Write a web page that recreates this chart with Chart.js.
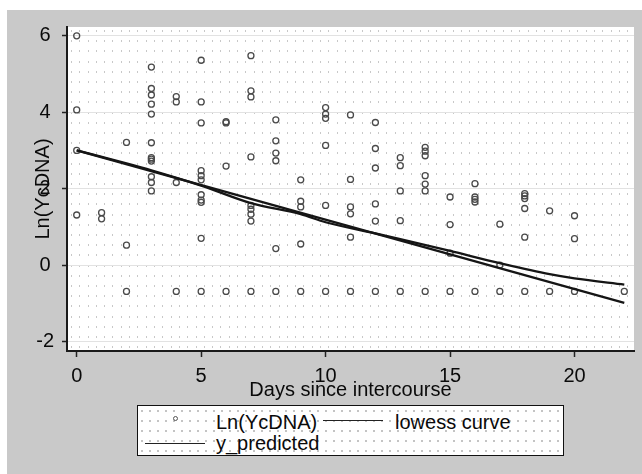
<!DOCTYPE html>
<html>
<head>
<meta charset="utf-8">
<script src="https://cdn.jsdelivr.net/npm/chart.js@4"></script>
<style>
  body { margin: 0; background: #fff; }
  #wrap { position: relative; width: 642px; height: 474px; }
  #legend {
    position: absolute; left: 137px; top: 405px; width: 425px; height: 49px;
    border: 1.5px solid #111; background-color: #fff;
    background-image: radial-gradient(#c4c4c4 0.7px, transparent 0.9px);
    background-size: 8px 10px;
    font-family: "Liberation Sans", Arial, sans-serif; font-size: 20px; line-height: 20px; color: #0a0a0a;
  }
  #legend span { position: absolute; white-space: nowrap; }
  #legend .ln { position: absolute; height: 0; border-top: 1.5px solid #222; }
  #legend .pt { position: absolute; width: 3px; height: 3px; border: 1px solid #555; border-radius: 50%; }
</style>
</head>
<body>
<div id="wrap">
  <canvas id="grafico" width="642" height="474"></canvas>
  <div id="legend">
    <div class="pt" style="left:35px; top:10px;"></div>
    <span style="left:78px; top:6px;">Ln(YcDNA)</span>
    <div class="ln" style="left:185px; width:60px; top:14px;"></div>
    <span style="left:257px; top:6px;">lowess curve</span>
    <div class="ln" style="left:7px; width:60px; top:37px;"></div>
    <span style="left:78px; top:27px;">y_predicted</span>
  </div>
</div>
<script>
// observaciones: dia desde el coito y Ln(YcDNA)
const obsDays = [
  0, 0, 0, 0,
  1, 1,
  2, 2, 2,
  3, 3, 3, 3, 3, 3, 3, 3, 3, 3, 3, 3,
  4, 4, 4, 4,
  5, 5, 5, 5, 5, 5, 5, 5, 5, 5, 5,
  6, 6, 6, 6,
  7, 7, 7, 7, 7, 7, 7, 7, 7,
  8, 8, 8, 8, 8, 8,
  9, 9, 9, 9, 9,
  10, 10, 10, 10, 10, 10,
  11, 11, 11, 11, 11, 11,
  12, 12, 12, 12, 12, 12,
  13, 13, 13, 13, 13,
  14, 14, 14, 14, 14, 14, 14,
  15, 15, 15, 15,
  16, 16, 16, 16, 16,
  17, 17, 17,
  18, 18, 18, 18, 18, 18,
  19, 19,
  20, 20, 20,
  22
];
const obsLnYcDNA = [
  6.0, 4.06, 3.0, 1.31,
  1.37, 1.21,
  3.21, 0.52, -0.69,
  5.18, 4.62, 4.45, 4.21, 3.95, 3.20, 2.81, 2.77, 2.72, 2.31, 2.16, 1.94,
  4.41, 4.27, 2.16, -0.69,
  5.36, 4.27, 3.72, 2.47, 2.34, 2.23, 1.84, 1.70, 1.64, 0.70, -0.69,
  3.75, 3.72, 2.59, -0.69,
  5.48, 4.56, 4.40, 2.83, 1.56, 1.46, 1.33, 1.15, -0.69,
  3.80, 3.25, 2.93, 2.73, 0.43, -0.69,
  2.23, 1.67, 1.52, 0.55, -0.69,
  4.12, 3.95, 3.84, 3.13, 1.56, -0.69,
  3.93, 2.24, 1.52, 1.34, 0.73, -0.69,
  3.73, 3.05, 2.54, 1.60, 1.15, -0.69,
  2.81, 2.60, 1.94, 1.16, -0.69,
  3.08, 2.98, 2.86, 2.34, 2.12, 1.94, -0.69,
  1.78, 1.06, 0.31, -0.69,
  2.13, 1.78, 1.72, 1.65, -0.69,
  1.07, 0.0, -0.69,
  1.87, 1.81, 1.74, 1.48, 0.73, -0.69,
  1.42, -0.69,
  1.29, 0.69, -0.69,
  -0.69
];

// curva lowess
const lowessDays = [0, 2, 3, 5, 7, 9, 10, 12, 13, 15, 17, 19, 20, 22];
const lowessValues = [3.0, 2.66, 2.48, 2.08, 1.62, 1.33, 1.12, 0.83, 0.68, 0.37, 0.05, -0.24, -0.35, -0.51];

// recta de regresion
const predDays = [0, 22];
const predValues = [3.0, -0.99];

const xTicks = [0, 5, 10, 15, 20];
const yTicks = [-2, 0, 2, 4, 6];

const toXY = (xs, ys) => xs.map((x, i) => ({ x: x, y: ys[i] }));

// fondo gris del escaneo y area blanca punteada
const fondo = {
  id: 'fondo',
  beforeDraw(chart) {
    const ctx = chart.ctx;
    const a = chart.chartArea;
    ctx.save();
    ctx.fillStyle = '#c9c9c9';
    ctx.fillRect(7, 10, chart.width - 7, chart.height - 10);
    ctx.fillStyle = '#ffffff';
    ctx.fillRect(a.left, a.top, a.right - a.left, a.bottom - a.top);
    ctx.fillStyle = '#c8c8c8';
    for (let x = a.left + 4; x < a.right; x += 8.3) {
      for (let y = a.top + 3; y < a.bottom; y += 10.2) {
        ctx.fillRect(Math.round(x), Math.round(y), 1, 2);
      }
    }
    ctx.restore();
  }
};

Chart.defaults.font.family = '"Liberation Sans", Arial, sans-serif';
Chart.defaults.color = '#0a0a0a';

new Chart(document.getElementById('grafico'), {
  type: 'scatter',
  data: {
    datasets: [
      {
        label: 'lowess curve',
        data: toXY(lowessDays, lowessValues),
        showLine: true,
        borderColor: '#151515',
        borderWidth: 2.3,
        pointRadius: 0,
        cubicInterpolationMode: 'monotone',
        order: 1
      },
      {
        label: 'y_predicted',
        data: toXY(predDays, predValues),
        showLine: true,
        borderColor: '#151515',
        borderWidth: 2.3,
        pointRadius: 0,
        order: 0
      },
      {
        label: 'Ln(YcDNA)',
        data: toXY(obsDays, obsLnYcDNA),
        pointRadius: 3,
        pointBorderWidth: 1.3,
        pointBorderColor: '#4a4a4a',
        pointBackgroundColor: 'rgba(0,0,0,0)',
        order: 2
      }
    ]
  },
  options: {
    responsive: false,
    animation: false,
    layout: { padding: { top: 27, right: 8, bottom: 72, left: 0 } },
    plugins: { legend: { display: false }, tooltip: { enabled: false } },
    scales: {
      x: {
        type: 'linear',
        min: -0.39,
        max: 22.39,
        afterBuildTicks: s => { s.ticks = xTicks.map(v => ({ value: v })); },
        afterFit: s => { s.height = 51; },
        grid: { drawOnChartArea: false, drawTicks: true, tickLength: 6, tickColor: '#222', tickWidth: 1.5 },
        border: { color: '#1a1a1a', width: 2 },
        ticks: { font: { size: 20 }, padding: 7, maxRotation: 0, autoSkip: false },
        title: { display: true, text: 'Days since intercourse', font: { size: 20 }, padding: { top: 0, bottom: 0 } }
      },
      y: {
        min: -2.25,
        max: 6.23,
        afterBuildTicks: s => { s.ticks = yTicks.map(v => ({ value: v })); },
        afterFit: s => { s.width = 67; },
        grid: { color: '#e2e2e2', lineWidth: 1, tickLength: 5, tickColor: '#222', tickWidth: 1.5 },
        border: { color: '#1a1a1a', width: 2 },
        ticks: { font: { size: 20 }, padding: 8, crossAlign: 'center' },
        title: { display: true, text: 'Ln(YcDNA)', font: { size: 20 }, padding: { top: 31, bottom: 0 } }
      }
    }
  },
  plugins: [fondo]
});
</script>
</body>
</html>
